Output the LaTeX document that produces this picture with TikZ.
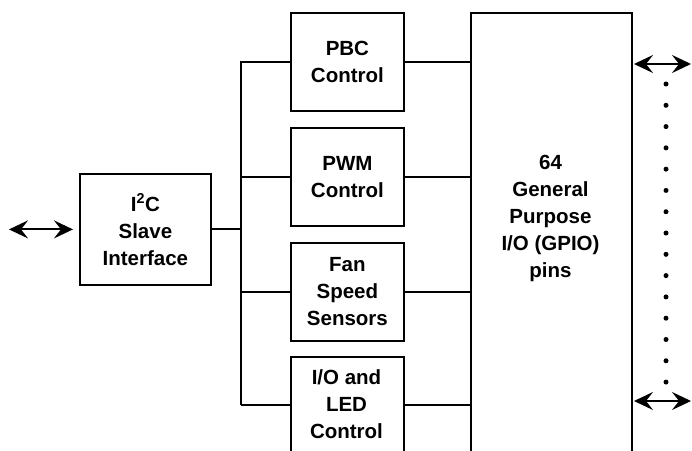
\documentclass[tikz,border=0pt]{standalone}
\usepackage{fontspec}
\setmainfont{Liberation Sans}
\usetikzlibrary{arrows.meta}
\begin{document}
\begin{tikzpicture}[x=1pt,y=1pt,
  line width=1.8pt,
  box/.style={draw, line width=1.8pt, inner sep=0pt},
  lbl/.style={align=center, font=\bfseries\fontsize{20.5}{27}\selectfont},
  conn/.style={line width=1.8pt},
  dbl/.style={line width=1.8pt, >={Stealth[length=19pt,width=18pt,inset=7pt]}, <->},
  dotc/.style={circle, fill, inner sep=0pt, minimum size=5pt}]
\useasboundingbox (0,0) rectangle (692,450);
\clip (0,0) rectangle (692,450);
% boxes (y = 450 - pixel y)
\node[box, minimum width=131, minimum height=111, anchor=north west] (i2c) at (79,277) {};
\node[lbl] at (i2c.center) {I\textsuperscript{2}C\\Slave\\Interface};
\node[box, minimum width=113, minimum height=98, anchor=north west] (pbc) at (290,438) {};
\node[lbl] at (pbc.center) {PBC\\Control};
\node[box, minimum width=113, minimum height=98, anchor=north west] (pwm) at (290,323) {};
\node[lbl] at (pwm.center) {PWM\\Control};
\node[box, minimum width=113, minimum height=98, anchor=north west] (fan) at (290,208) {};
\node[lbl] at (fan.center) {Fan\\Speed\\Sensors};
\node[box, minimum width=113, minimum height=120, anchor=north west] (io) at (290,94) {};
\node[lbl, anchor=north] (iotext) at (346.5,85) {I/O and\\LED\\Control};
\node[box, minimum width=161, minimum height=460, anchor=north west] (gpio) at (470,438) {};
\node[lbl] (gpiotext) at (550.5,232) {64\\General\\Purpose\\I/O (GPIO)\\pins};
% bus
\coordinate (bustop) at (241,389);
\coordinate (busbot) at (241,45);
\coordinate (iol) at (io.west |- busbot);
\draw[conn] (bustop) -- (busbot);
\draw[conn] (i2c.east) -- (i2c.east -| bustop);
\draw[conn] (pbc.west) -- (pbc.west -| bustop);
\draw[conn] (pwm.west) -- (pwm.west -| bustop);
\draw[conn] (fan.west) -- (fan.west -| bustop);
\draw[conn] (iol) -- (busbot);
% to GPIO
\draw[conn] (pbc.east) -- (pbc.east -| gpio.west);
\draw[conn] (pwm.east) -- (pwm.east -| gpio.west);
\draw[conn] (fan.east) -- (fan.east -| gpio.west);
\draw[conn] (io.east |- busbot) -- (busbot -| gpio.west);
% external arrows
\coordinate (la) at (9,0 |- i2c.west);
\draw[dbl] (la) -- ([xshift=-6pt]i2c.west);
\coordinate (ra1) at (634,386);
\coordinate (rb1) at (691,386);
\coordinate (ra2) at (634,49);
\coordinate (rb2) at (691,49);
\draw[dbl] (ra1) -- (rb1);
\draw[dbl] (ra2) -- (rb2);
% dots
\foreach \i in {0,...,14} {
  \node[dotc] (d\i) at (666, {366 - \i*21.29}) {};
}
\end{tikzpicture}
\end{document}
